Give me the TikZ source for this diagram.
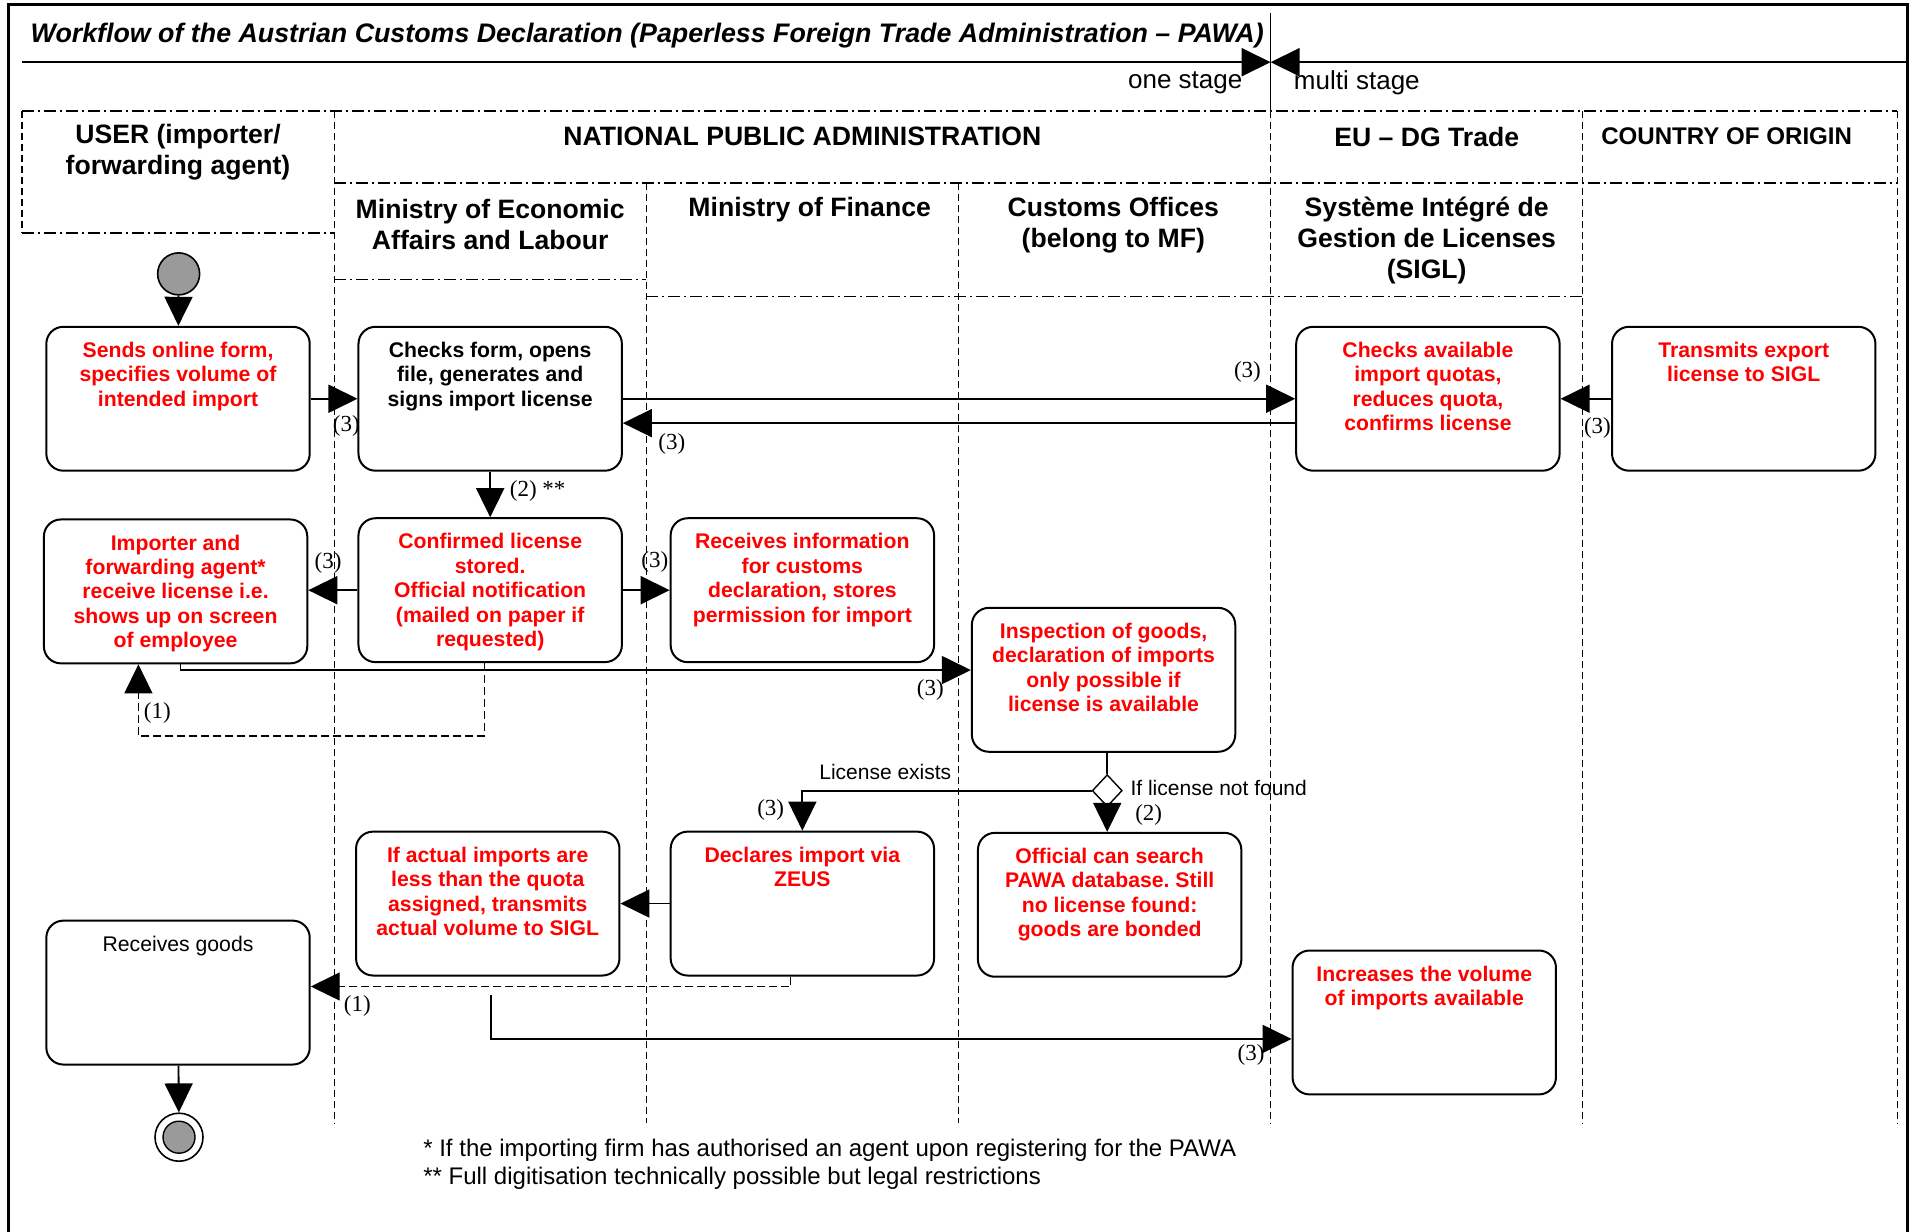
\documentclass[tikz,border=0pt]{standalone}
\usepackage{fontspec}
\setmainfont{Liberation Sans}
\newfontfamily\numfont{Liberation Serif}
\usetikzlibrary{arrows.meta,calc,shapes.geometric}
\definecolor{actred}{RGB}{255,0,0}
\definecolor{dotgray}{RGB}{154,154,154}
\frenchspacing

% activity box contents: colour, font switch, text (top aligned)
\newcommand{\actbox}[3]{\parbox[c][143.9pt][t]{263.4pt}{\centering\color{#1}\fontsize{21.2}{24.4}\selectfont#2\rule{0pt}{30.7pt}#3}}

\begin{document}
\begin{tikzpicture}[x=1.2194pt,y=-1.2194pt,
  act/.style={draw, rounded corners=17pt, line width=2pt, inner sep=0pt, fill=white},
  flow/.style={line width=1.8pt, -{Triangle[length=29pt,width=28pt]}},
  back/.style={line width=1.4pt, dash pattern=on 8pt off 4pt, -{Triangle[length=29pt,width=28pt]}},
  lane/.style={line width=1.2pt, dash pattern=on 7pt off 4pt},
  hdr/.style={line width=1.2pt, dash pattern=on 12pt off 4pt on 2pt off 4pt},
  head/.style={font=\bfseries\fontsize{26.6}{31}\selectfont, align=center, inner sep=0pt},
  num/.style={font=\numfont\fontsize{23}{26}\selectfont, inner sep=0pt},
  note/.style={font=\fontsize{21}{24}\selectfont, inner sep=0pt}]

\useasboundingbox (0,0) rectangle (1568,1010);

% outer frame
\draw[line width=3pt] (6.6,1010) -- (6.6,4) -- (1564,4) -- (1564,1010);

% title and stage divider
\node[anchor=west, inner sep=0pt, font=\bfseries\itshape\fontsize{26.8}{30}\selectfont] (title) at (25,29)
  {Workflow of the Austrian Customs Declaration (Paperless Foreign Trade Administration -- PAWA)};
\coordinate (tl) at (18,51);
\coordinate (tm) at (1042,51);
\coordinate (tr) at (1564,51);
\coordinate (dtop) at (1042,11);
\coordinate (dbot) at (1042,91);
\draw[line width=1.2pt] (dtop) -- (dbot);
\draw[flow, line width=2pt] (tl) -- (tm);
\draw[flow, line width=2pt] (tr) -- (tm);
\node[anchor=east, inner sep=0pt, font=\fontsize{26}{30}\selectfont] (one) at (1019,68) {one stage};
\node[anchor=west, inner sep=0pt, font=\fontsize{26}{30}\selectfont] (multi) at (1061,68) {multi stage};

% swimlane grid
\draw[hdr] (18,91) -- (1556,91);
\draw[hdr] (274,150) -- (1556,150);
\draw[hdr] (18,191) -- (274,191);
\draw[hdr] (274,229) -- (530,229);
\draw[hdr] (530,243) -- (1298,243);
\draw[lane] (18,91) -- (18,191);
\draw[lane] (274,91) -- (274,921);
\draw[lane] (530,150) -- (530,921);
\draw[lane] (786,150) -- (786,921);
\draw[lane] (1042,91) -- (1042,921);
\draw[lane] (1298,91) -- (1298,921);
\draw[lane] (1556,91) -- (1556,921);

% lane headings
\node[head] (hUser) at (146,125) {USER (importer/\\forwarding agent)};
\node[head] (hNat) at (658,112) {NATIONAL PUBLIC ADMINISTRATION};
\node[head] (hMeal) at (402,184.5) {Ministry of Economic\\Affairs and Labour};
\node[head] (hMf) at (664,172) {Ministry of Finance};
\node[head] (hCo) at (913,184.5) {Customs Offices\\(belong to MF)};
\node[head] (hEu) at (1170,112) {EU -- DG Trade};
\node[head] (hSigl) at (1170,197) {Système Intégré de\\Gestion de Licenses\\(SIGL)};
\node[head, font=\bfseries\fontsize{24.1}{28}\selectfont] (hCoo) at (1416,112) {COUNTRY OF ORIGIN};

% start and end
\node[circle, draw, fill=dotgray, minimum size=42pt, line width=1.6pt, inner sep=0pt] (start) at (146.5,224.6) {};
\node[circle, draw, fill=white, minimum size=48pt, line width=1.6pt, inner sep=0pt] (endo) at (146.8,932.6) {};
\node[circle, draw, fill=dotgray, minimum size=32pt, line width=1.4pt, inner sep=0pt] (endi) at (146.8,932.6) {};

% activities
\node[act] (send) at (146,327) {\actbox{actred}{\bfseries}{Sends online form,\\specifies volume of\\intended import}};
\node[act] (check) at (402,327) {\actbox{black}{\bfseries}{Checks form, opens\\file, generates and\\signs import license}};
\node[act] (quota) at (1171,327) {\actbox{actred}{\bfseries}{Checks available\\import quotas,\\reduces quota,\\confirms license}};
\node[act] (export) at (1430,327) {\actbox{actred}{\bfseries}{Transmits export\\license to SIGL}};
\node[act] (recv) at (144,485) {\actbox{actred}{\bfseries}{Importer and\\forwarding agent*\\receive license i.e.\\shows up on screen\\of employee}};
\node[act] (conf) at (402,484) {\actbox{actred}{\bfseries}{Confirmed license\\stored.\\Official notification\\(mailed on paper if\\requested)}};
\node[act] (info) at (658,484) {\actbox{actred}{\bfseries}{Receives information\\for customs\\declaration, stores\\permission for import}};
\node[act] (insp) at (905,557.5) {\actbox{actred}{\bfseries}{Inspection of goods,\\declaration of imports\\only possible if\\license is available}};
\node[act] (search) at (910,742) {\actbox{actred}{\bfseries}{Official can search\\PAWA database. Still\\no license found:\\goods are bonded}};
\node[act] (zeus) at (658,741) {\actbox{actred}{\bfseries}{Declares import via\\ZEUS}};
\node[act] (actual) at (400,741) {\actbox{actred}{\bfseries}{If actual imports are\\less than the quota\\assigned, transmits\\actual volume to SIGL}};
\node[act] (goods) at (146,814) {\actbox{black}{}{Receives goods}};
\node[act] (incr) at (1168,838.5) {\actbox{actred}{\bfseries}{Increases the volume\\of imports available}};

% decision
\node[diamond, draw, fill=white, minimum width=30pt, minimum height=32pt, inner sep=0pt, line width=1.4pt] (dec) at (908,648.4) {};

% connectors
\draw[flow] (start) -- (send);
\draw[flow] (send) -- (check);
\draw[flow] (check) -- (quota);
\draw[flow] ($(quota.west)+(0,20)$) -- ($(check.east)+(0,20)$);
\draw[flow] (export) -- (quota);
\draw[flow] (check) -- (conf);
\draw[flow] (conf.west) -- (conf.west -| recv.east);
\draw[flow] (conf) -- (info);
\draw[flow] ($(recv.south)+(4,0)$) |- ($(insp.west)+(0,-8)$);
\draw[back] ($(conf.south)+(-4.5,0)$) -- ++(0,59.6) -| ($(recv.south)+(-30.5,0)$);
\draw[line width=1.8pt] (dec.north |- insp.south) -- (dec.north);
\draw[flow] (dec.west) -| (zeus.north);
\draw[flow] (dec.south) -- (dec.south |- search.north);
\draw[flow] (zeus) -- (actual);
\draw[back] ($(zeus.south)+(-9.5,0)$) |- ($(goods.east)+(0,-5)$);
\draw[flow] ($(actual.south)+(2.7,15)$) |- ($(incr.west)+(0,13.5)$);
\draw[flow] (goods) -- (endo);

% connector labels
\node[num] (n1) at (284,349) {(3)};
\node[num] (n2) at (1023,305) {(3)};
\node[num] (n3) at (551,364) {(3)};
\node[num] (n4) at (1310,351) {(3)};
\node[num, anchor=west] (n5) at (418,403) {(2) **};
\node[num] (n6) at (269,462) {(3)};
\node[num] (n7) at (537,461) {(3)};
\node[num] (n8) at (763,566) {(3)};
\node[num] (n9) at (129,585) {(1)};
\node[num] (n10) at (632,664) {(3)};
\node[num] (n11) at (942,668) {(2)};
\node[num] (n12) at (293,825) {(1)};
\node[num] (n13) at (1026,865) {(3)};
\node[note] (lexists) at (726,633) {License exists};
\node[note, anchor=west] (lnot) at (927,646) {If license not found};

% footnotes
\node[note, anchor=west, font=\fontsize{24}{28}\selectfont] (fn1) at (347,943) {* If the importing firm has authorised an agent upon registering for the PAWA};
\node[note, anchor=west, font=\fontsize{24}{28}\selectfont] (fn2) at (347,966) {** Full digitisation technically possible but legal restrictions};

\end{tikzpicture}
\end{document}
